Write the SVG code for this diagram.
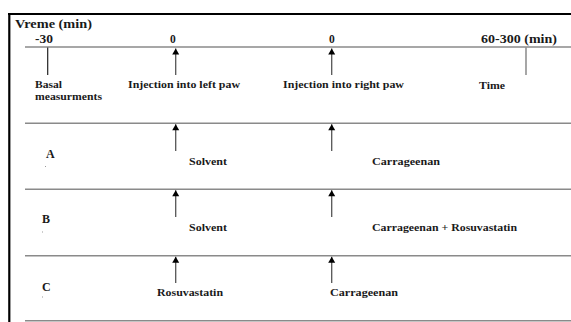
<svg xmlns="http://www.w3.org/2000/svg" width="571" height="322" viewBox="0 0 571 322">
<style>
text{font-family:"Liberation Serif","Times New Roman",serif;font-weight:bold;fill:#1a1a1a}
.t{font-size:11.5px}
.s{font-size:9.5px}
.l{font-size:12px}
.g{stroke:#8a8a8a;stroke-width:1.6;fill:none}
.a{stroke:#555;stroke-width:1.3;fill:none}
</style>
<defs>
<marker id="ah" viewBox="0 0 8 8" refX="7.5" refY="4" markerWidth="8" markerHeight="8" markerUnits="userSpaceOnUse" orient="auto">
<path d="M1.5,0.5 L7.5,4 L1.5,7.5 Z" fill="#000"/>
</marker>
</defs>
<g id="frame">
<line x1="8" y1="14" x2="571" y2="14" stroke="#000" stroke-width="2.2"/>
<line x1="9.3" y1="13" x2="9.3" y2="322" stroke="#000" stroke-width="2.2"/>
</g>
<g id="connectors">
<line class="g" x1="25" y1="47" x2="571" y2="47"/>
<line class="g" x1="25" y1="123.3" x2="571" y2="123.3"/>
<line class="g" x1="25" y1="189.3" x2="571" y2="189.3"/>
<line class="g" x1="25" y1="255.7" x2="571" y2="255.7"/>
<line class="g" x1="25" y1="320.8" x2="571" y2="320.8"/>
<line x1="47.7" y1="47.5" x2="47.7" y2="75" stroke="#222" stroke-width="1.2"/>
<line x1="526" y1="47.5" x2="526" y2="75" stroke="#777" stroke-width="1.3"/>
<line class="a" x1="175.7" y1="75" x2="175.7" y2="48.5" marker-end="url(#ah)"/>
<line class="a" x1="331.7" y1="75" x2="331.7" y2="48.5" marker-end="url(#ah)"/>
<line class="a" x1="175.7" y1="151" x2="175.7" y2="124.3" marker-end="url(#ah)"/>
<line class="a" x1="331.7" y1="151" x2="331.7" y2="124.3" marker-end="url(#ah)"/>
<line class="a" x1="175.7" y1="217" x2="175.7" y2="190.3" marker-end="url(#ah)"/>
<line class="a" x1="331.7" y1="217" x2="331.7" y2="190.3" marker-end="url(#ah)"/>
<line class="a" x1="175.7" y1="283" x2="175.7" y2="256.7" marker-end="url(#ah)"/>
<line class="a" x1="331.7" y1="283" x2="331.7" y2="256.7" marker-end="url(#ah)"/>
</g>
<g id="timeline">
<text class="t" x="15" y="28" textLength="77" lengthAdjust="spacingAndGlyphs">Vreme (min)</text>
<text class="t" x="35" y="43" textLength="18" lengthAdjust="spacingAndGlyphs">-30</text>
<text class="t" x="170" y="43">0</text>
<text class="t" x="329" y="43">0</text>
<text class="t" x="481" y="42.5" textLength="76" lengthAdjust="spacingAndGlyphs">60-300 (min)</text>
</g>
<g id="basal">
<text class="s" x="35" y="88" textLength="27" lengthAdjust="spacingAndGlyphs">Basal</text>
<text class="s" x="35" y="100" textLength="67" lengthAdjust="spacingAndGlyphs">measurments</text>
</g>
<g id="left-paw"><text class="s" x="128" y="88" textLength="112" lengthAdjust="spacingAndGlyphs">Injection into left paw</text></g>
<g id="right-paw"><text class="s" x="283" y="88" textLength="121" lengthAdjust="spacingAndGlyphs">Injection into right paw</text></g>
<g id="time"><text class="s" x="479" y="88.5" textLength="26" lengthAdjust="spacingAndGlyphs">Time</text></g>
<g id="row-a">
<text class="l" x="46" y="158">A</text>
<rect x="45" y="166" width="1" height="1" fill="#999"/>
<text class="s" x="189" y="164.5" textLength="38" lengthAdjust="spacingAndGlyphs">Solvent</text>
<text class="s" x="372" y="164.5" textLength="68" lengthAdjust="spacingAndGlyphs">Carrageenan</text>
</g>
<g id="row-b">
<text class="l" x="42" y="223">B</text>
<rect x="42" y="231.5" width="1" height="1" fill="#999"/>
<text class="s" x="189" y="230.5" textLength="38" lengthAdjust="spacingAndGlyphs">Solvent</text>
<text class="s" x="372" y="230.5" textLength="145" lengthAdjust="spacingAndGlyphs">Carrageenan + Rosuvastatin</text>
</g>
<g id="row-c">
<text class="l" x="42" y="291">C</text>
<rect x="42" y="296.5" width="1" height="1" fill="#999"/>
<text class="s" x="157" y="295.5" textLength="66" lengthAdjust="spacingAndGlyphs">Rosuvastatin</text>
<text class="s" x="330" y="295.5" textLength="68" lengthAdjust="spacingAndGlyphs">Carrageenan</text>
</g>
</svg>
